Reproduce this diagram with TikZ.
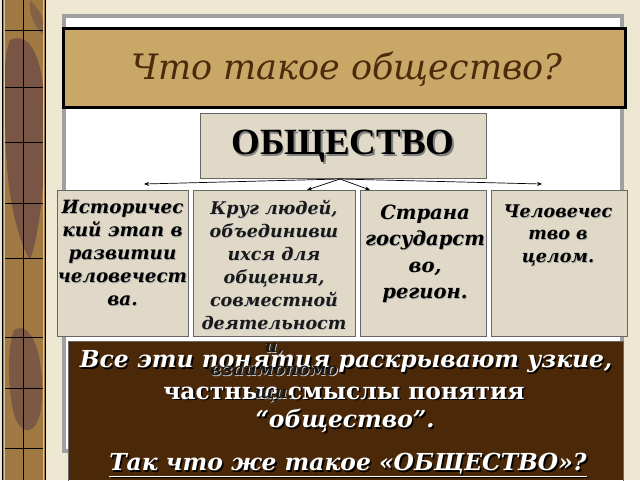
\documentclass[tikz,border=0pt]{standalone}
\usepackage{fontspec}
\setmainfont{DejaVu Serif}
\newfontfamily\tnr{Liberation Serif}
\usetikzlibrary{arrows.meta}
\definecolor{cream}{HTML}{EEE8D2}
\definecolor{tanfill}{HTML}{C9A766}
\definecolor{dbrown}{HTML}{4A2808}
\definecolor{boxfill}{HTML}{E1D9C8}
\definecolor{titletext}{HTML}{4B2B0C}
\definecolor{stripA}{HTML}{A07A42}
\definecolor{stripB}{HTML}{6E4C46}
\definecolor{panelgray}{HTML}{A0A0A0}
\tikzset{
  cbox/.style={draw=gray!80!black, line width=0.8pt, fill=boxfill, anchor=north west, inner sep=0pt},
  btext/.style={font=\bfseries\itshape\fontsize{17.5}{23}\selectfont, align=center, inner sep=0pt, anchor=north},
  conn/.style={line width=0.7pt, -{Stealth[length=5pt,width=4pt]}},
  grid/.style={black, line width=0.6pt}
}
\begin{document}
\begin{tikzpicture}[x=1pt,y=-1pt]
\useasboundingbox (0,0) rectangle (640,480);
\fill[cream] (0,0) rectangle (640,480);
% left decorative strip
\fill[stripA] (2,0) rectangle (46,480);
\fill[stripB, opacity=0.8] (10,40) .. controls (30,30) and (46,60) .. (44,120) .. controls (46,180) and (40,230) .. (30,260) .. controls (18,240) and (8,200) .. (6,150) .. controls (4,100) and (2,60) .. (10,40);
\fill[stripB, opacity=0.7] (14,330) .. controls (30,320) and (44,350) .. (42,400) .. controls (40,430) and (26,440) .. (16,420) .. controls (8,400) and (6,350) .. (14,330);
\fill[stripB, opacity=0.5] (30,0) .. controls (40,10) and (46,20) .. (44,35) .. controls (36,30) and (28,15) .. (30,0);
\draw[black, line width=1pt] (2.5,0) -- (2.5,480) (45.5,0) -- (45.5,480);
\draw[cream!70!stripA, line width=1pt] (4.5,0) -- (4.5,480) (43.5,0) -- (43.5,480);
\draw[grid] (23,0) -- (23,480);
\foreach \yy in {30,87,142,203,258,337,388,448} {\draw[grid] (5,\yy) -- (43,\yy);}
% main panel
\fill[panelgray] (62,14) rectangle (624,453);
\fill[white] (66,18) rectangle (620,449);
% title
\node[draw=black, line width=3pt, fill=tanfill, minimum width=562pt, minimum height=79pt, anchor=north west] (title) at (62,27) {};
\node[text=titletext, font=\itshape\fontsize{35}{40}\selectfont] (titletxt) at (347,69) {Что такое общество?};
% OBSHCHESTVO
\node[cbox, minimum width=286pt, minimum height=65pt] (soc) at (200,113) {};
\node[text=gray, font=\tnr\bfseries\fontsize{37}{40}\selectfont] (socsh) at (344.5,148) {ОБЩЕСТВО};
\node[text=black, font=\tnr\bfseries\fontsize{37}{40}\selectfont] (soctxt) at (343,146.5) {ОБЩЕСТВО};
% four boxes
\node[cbox, minimum width=131pt, minimum height=146pt] (b1) at (57,190) {};
\node[cbox, minimum width=162pt, minimum height=146pt] (b2) at (193,190) {};
\node[cbox, minimum width=126pt, minimum height=146pt] (b3) at (360,190) {};
\node[cbox, minimum width=136pt, minimum height=146pt] (b4) at (491,190) {};
% connectors
\coordinate (o) at (340,179);
\coordinate (t1) at (144,184);
\coordinate (t2) at (307,190);
\coordinate (t3) at (370,190);
\coordinate (t4) at (542,184);
\draw[conn] (o) -- (t1);
\draw[conn] (o) -- (t2);
\draw[conn] (o) -- (t3);
\draw[conn] (o) -- (t4);
% box texts
\node[btext, font=\bfseries\itshape\fontsize{18.3}{23}\selectfont, text=gray!70] (b1sh) at (123.3,200.8) {Историчес\\кий этап в\\развитии\\человечест\\ва.};
\node[btext, font=\bfseries\itshape\fontsize{18.3}{23}\selectfont] (b1t) at (122.5,200) {Историчес\\кий этап в\\развитии\\человечест\\ва.};
\node[btext, font=\bfseries\itshape\fontsize{19.5}{26.5}\selectfont, text=gray!70] (b3sh) at (425.8,205.3) {Страна\\государст\\во,\\регион.};
\node[btext, font=\bfseries\itshape\fontsize{19.5}{26.5}\selectfont] (b3t) at (425,204.5) {Страна\\государст\\во,\\регион.};
\node[btext, font=\bfseries\itshape\fontsize{17.5}{22.5}\selectfont, text=gray!70] (b4sh) at (558.8,205.3) {Человечес\\тво в\\целом.};
\node[btext, font=\bfseries\itshape\fontsize{17.5}{22.5}\selectfont] (b4t) at (558,204.5) {Человечес\\тво в\\целом.};
% brown box
\fill[dbrown] (68,341) rectangle (623,480);
\node[draw=black!60, line width=0.6pt, fill=none, minimum width=555pt, minimum height=145pt, anchor=north west, inner sep=0pt] (bottom) at (68,341) {};
% bottom text with shadow
\foreach \dx/\col in {1.6/black, 0/white} {
  \node[text=\col, inner sep=0pt, font=\bfseries\itshape\fontsize{23.4}{26}\selectfont] at (346+\dx,362+\dx) {Все эти понятия раскрывают узкие,};
  \node[text=\col, inner sep=0pt, font=\bfseries\fontsize{23.4}{26}\selectfont] at (344+\dx,393+\dx) {частные смыслы понятия};
  \node[text=\col, inner sep=0pt, font=\bfseries\itshape\fontsize{23.4}{26}\selectfont] at (345+\dx,421+\dx) {“общество”.};
  \node[text=\col, inner sep=0pt, font=\bfseries\itshape\fontsize{23.4}{26}\selectfont] at (348+\dx,465+\dx) {\underline{Так что же такое «ОБЩЕСТВО»?}};
}
% box 2 text (overflows onto brown box)
\node[btext, text=gray!45] (b2sh) at (274.8,200.8) {Круг людей,\\объединивш\\ихся для\\общения,\\совместной\\деятельност\\и,\\взаимопомо\\щи.};
\node[btext, text=black!90] (b2t) at (274,200) {Круг людей,\\объединивш\\ихся для\\общения,\\совместной\\деятельност\\и,\\взаимопомо\\щи.};
\end{tikzpicture}
\end{document}
